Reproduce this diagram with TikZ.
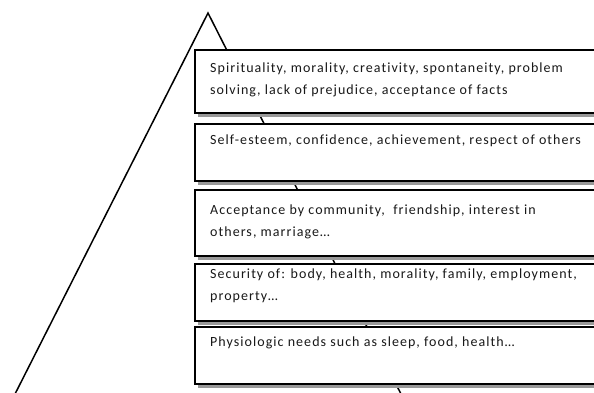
\documentclass[tikz,border=0pt]{standalone}
\usepackage{fontspec}
\setmainfont{Carlito}
\newfontfamily\tierfont[LetterSpace=7.5,Ligatures=NoCommon]{Carlito}
\usetikzlibrary{shadows}
\begin{document}
\begin{tikzpicture}[x=1pt,y=-1pt,
  edge/.style={line width=1.5pt, line cap=round, line join=miter},
  tier/.style={draw=black, line width=1.6pt, fill=white, anchor=north west,
    minimum width=406pt, inner sep=0pt,
    drop shadow={opacity=1, fill=black!40, shadow xshift=3pt, shadow yshift=-4pt}},
  tiertext/.style={anchor=base west, inner sep=0pt, align=left, text=black!90,
    font=\tierfont\fontsize{14}{22}\selectfont}]
\useasboundingbox (0,0) rectangle (594,393);
\clip (0,0) rectangle (594,393);
\fill[white] (0,0) rectangle (594,393);

% pyramid outline
\coordinate (apex) at (208,13);
\coordinate (baseL) at (14,396);
\coordinate (baseR) at (402,396);
\draw[edge] (baseL) -- (apex) -- (baseR);

% the five tiers, top to bottom
\node[tier, minimum height=63pt] (t1) at (194,49) {};
\node[tier, minimum height=57pt] (t2) at (194,123) {};
\node[tier, minimum height=66pt] (t3) at (194,189) {};
\node[tier, minimum height=57pt] (t4) at (194,263) {};
\node[tier, minimum height=57pt] (t5) at (194,326) {};

% labels; a two-line label sits on the baseline of its last line
\node[tiertext] (l1) at (210,95) {Spirituality, morality, creativity, spontaneity, problem\\solving, lack of prejudice, acceptance of facts};
\node[tiertext] (l2) at (210,145) {Self-esteem, confidence, achievement, respect of others};
\node[tiertext] (l3) at (210,236) {Acceptance by community,\ \ friendship, interest in\\others, marriage\ldots};
\node[tiertext] (l4) at (210,300) {Security of: body, health, morality, family, employment,\\property\ldots};
\node[tiertext] (l5) at (210,346) {Physiologic needs such as sleep, food, health\ldots};
\end{tikzpicture}
\end{document}
